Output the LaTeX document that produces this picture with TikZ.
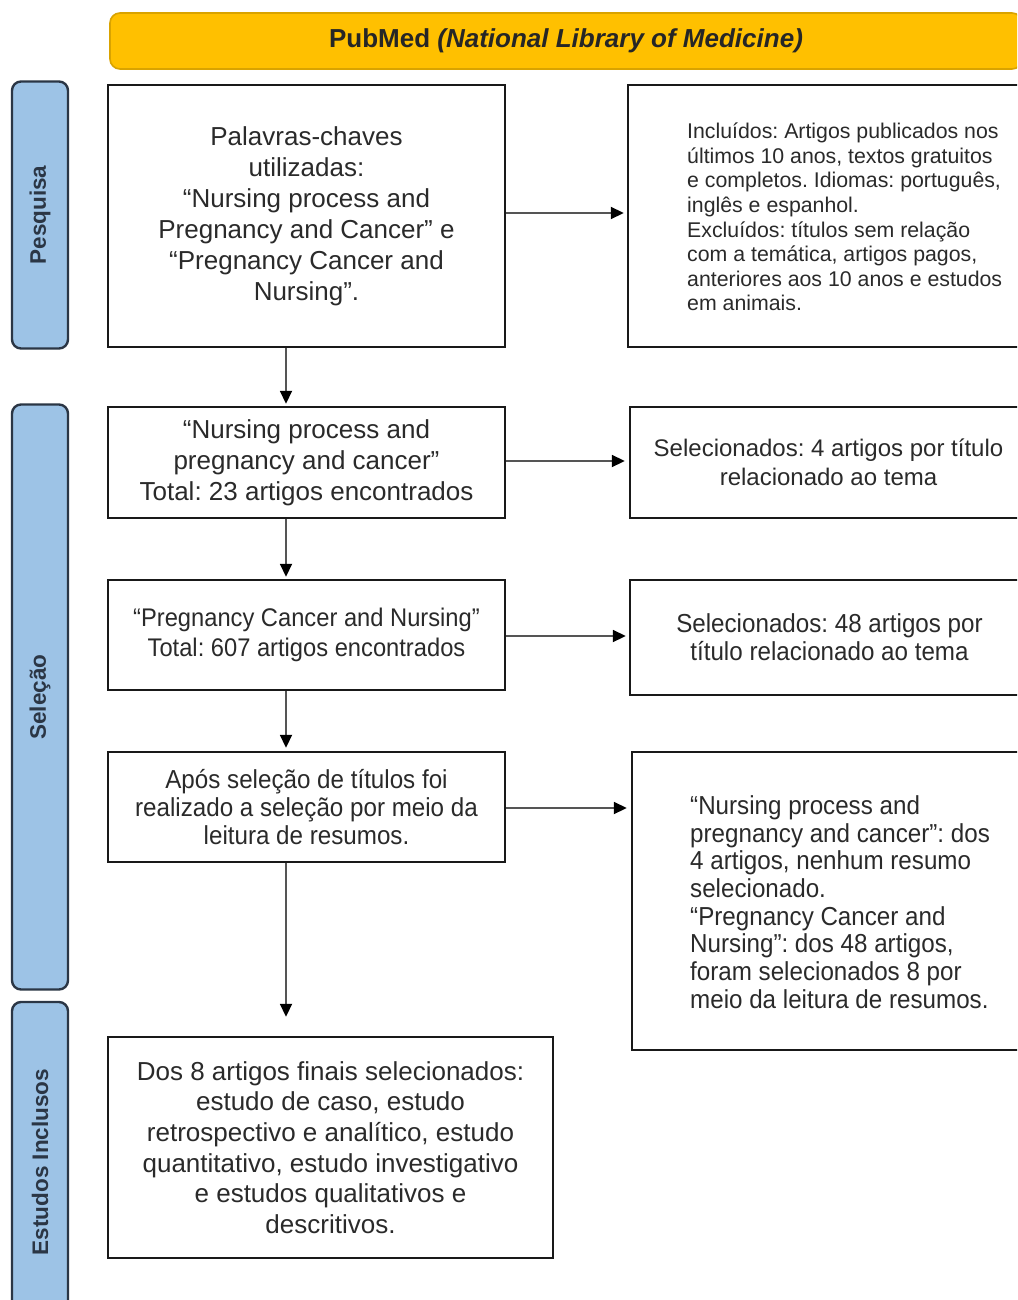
\documentclass[tikz,border=0pt]{standalone}
\usepackage{fontspec}
\setmainfont{Liberation Sans}
\newfontfamily\narrowfont{Liberation Sans}[FakeStretch=0.93]
\usetikzlibrary{arrows.meta}
\definecolor{gold}{HTML}{FFC000}
\definecolor{goldline}{HTML}{D9A300}
\definecolor{lblue}{HTML}{9DC3E6}
\definecolor{navy}{HTML}{2B3645}
\definecolor{txt}{HTML}{2A2A2A}
\definecolor{arrowgray}{HTML}{555555}
\frenchspacing
\tikzset{
  box/.style={draw=black!90, line width=2.4pt, fill=white, text=txt, inner sep=0pt},
  sidelabel/.style={draw=navy, line width=2.4pt, fill=lblue, rounded corners=9pt, inner sep=0pt},
  sidetext/.style={rotate=90, text=navy, font=\bfseries\fontsize{22.5}{27}\selectfont},
  flow/.style={draw=arrowgray, line width=1.8pt, -{Triangle[length=13pt,width=12pt,color=black]}},
  txtnode/.style={text=txt, inner sep=0pt, anchor=west, align=left}
}
\begin{document}
\begin{tikzpicture}[x=1pt,y=-1pt]
\useasboundingbox (0,0) rectangle (1017,1300);
\clip (0,0) rectangle (1017,1300);
\fill[white] (0,0) rectangle (1017,1300);

% banner
\node[draw=goldline, line width=1.6pt, fill=gold, rounded corners=10pt,
      minimum width=912pt, minimum height=56pt, inner sep=0pt,
      font=\bfseries\fontsize{26}{30}\selectfont, text=black!85] (banner) at (566,41)
      {PubMed \textit{(National Library of Medicine)}};

% side labels
\node[sidelabel, minimum width=56pt, minimum height=267pt] (lp) at (40,215) {};
\node[sidetext] (lpt) at (lp.center) {Pesquisa};
\node[sidelabel, minimum width=56pt, minimum height=585pt] (ls) at (40,697) {};
\node[sidetext] (lst) at (ls.center) {Seleção};
\node[sidelabel, minimum width=56pt, minimum height=320pt] (le) at (40,1162) {};
\node[sidetext] (let) at (le.center) {Estudos Inclusos};

\coordinate (colx) at (286,0);

% left column
\node[box, minimum width=397pt, minimum height=262pt, align=center,
      font=\fontsize{26}{31}\selectfont] (b1) at (306.5,216)
  {Palavras-chaves\\utilizadas:\\“Nursing process and\\Pregnancy and Cancer” e\\“Pregnancy Cancer and\\Nursing”.};

\node[box, minimum width=397pt, minimum height=111pt, align=center,
      font=\fontsize{26}{31}\selectfont] (b2) at (306.5,462.5)
  {“Nursing process and\\pregnancy and cancer”\\Total: 23 artigos encontrados};

\node[box, minimum width=397pt, minimum height=110pt, align=center,
      font=\narrowfont\fontsize{25.5}{30}\selectfont] (b3) at (306.5,635)
  {“Pregnancy Cancer and Nursing”\\Total: 607 artigos encontrados};

\node[box, minimum width=397pt, minimum height=110pt, align=center,
      font=\narrowfont\fontsize{26}{28}\selectfont] (b4) at (306.5,807)
  {Após seleção de títulos foi\\realizado a seleção por meio da\\leitura de resumos.};

\node[box, minimum width=445pt, minimum height=221pt, align=center,
      font=\fontsize{26}{30.6}\selectfont] (b5) at (330.5,1147.5)
  {Dos 8 artigos finais selecionados:\\estudo de caso, estudo\\retrospectivo e analítico, estudo\\quantitativo, estudo investigativo\\e estudos qualitativos e\\descritivos.};

% right column
\node[box, minimum width=434pt, minimum height=262pt] (r1) at (845,216) {};
\node[txtnode, font=\fontsize{21.3}{24.6}\selectfont] (r1t) at (687,217)
  {Incluídos: Artigos publicados nos\\últimos 10 anos, textos gratuitos\\e completos. Idiomas: português,\\inglês e espanhol.\\Excluídos: títulos sem relação\\com a temática, artigos pagos,\\anteriores aos 10 anos e estudos\\em animais.};

\node[box, minimum width=397pt, minimum height=111pt, align=center,
      font=\fontsize{24}{29}\selectfont] (r2) at (828.5,462.5)
  {Selecionados: 4 artigos por título\\relacionado ao tema};

\node[box, minimum width=399pt, minimum height=115pt, align=center,
      font=\narrowfont\fontsize{26}{28}\selectfont] (r3) at (829.5,637.5)
  {Selecionados: 48 artigos por\\título relacionado ao tema};

\node[box, minimum width=416pt, minimum height=298pt] (r4) at (840,901) {};
\node[txtnode, font=\narrowfont\fontsize{26}{27.7}\selectfont] (r4t) at (690,902)
  {“Nursing process and\\pregnancy and cancer”: dos\\4 artigos, nenhum resumo\\selecionado.\\“Pregnancy Cancer and\\Nursing”: dos 48 artigos,\\foram selecionados 8 por\\meio da leitura de resumos.};

% connectors
\draw[flow, shorten >=3pt] (b1.east |- 0,213) -- (r1.west |- 0,213);
\draw[flow, shorten >=4pt] (b2.east |- 0,461) -- (r2.west |- 0,461);
\draw[flow, shorten >=3pt] (b3.east |- 0,636) -- (r3.west |- 0,636);
\draw[flow, shorten >=4pt] (b4.east |- 0,808) -- (r4.west |- 0,808);

\draw[flow, shorten >=2pt] (b1.south -| colx) -- (b2.north -| colx);
\draw[flow, shorten >=2pt] (b2.south -| colx) -- (b3.north -| colx);
\draw[flow, shorten >=3pt] (b3.south -| colx) -- (b4.north -| colx);
\draw[flow, shorten >=19pt] (b4.south -| colx) -- (b5.north -| colx);
\end{tikzpicture}
\end{document}
